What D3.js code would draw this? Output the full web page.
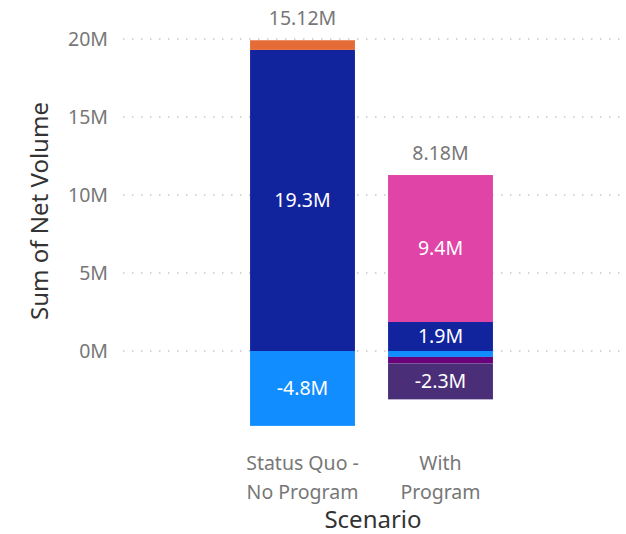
<!DOCTYPE html>
<html>
<head>
<meta charset="utf-8">
<script src="https://cdn.jsdelivr.net/npm/d3@7"></script>
<style>
  body { margin: 0; background: #fff; }
  svg text { font-family: "Segoe UI", "Noto Sans", "Open Sans", sans-serif; }
</style>
</head>
<body>
<script>
// data (values in millions)
var scenarios = ["Status Quo - No Program", "With Program"];
var scenarioLines = [["Status Quo -", "No Program"], ["With", "Program"]];
var seriesNames = ["S1", "S2", "S3", "S4", "S5", "S6"];
var seriesColors = ["#118DFF", "#12239E", "#E66C37", "#6B007B", "#E044A7", "#4B2E78"];
var statusQuoValues = [-4.8, 19.3, 0.62, 0, 0, 0];
var withProgramValues = [-0.38, 1.86, 0, -0.42, 9.42, -2.3];
var totals = ["15.12M", "8.18M"];
var yTicks = [0, 5, 10, 15, 20];

var width = 626, height = 534;

var svg = d3.select("body").append("svg")
    .attr("width", width)
    .attr("height", height);

var x = d3.scaleBand()
    .domain(scenarios)
    .range([233.5, 509.5])
    .paddingInner(0.24)
    .paddingOuter(0.12);

var y = d3.scaleLinear()
    .domain([0, 20])
    .range([351, 39]);

var fmt = d3.formatLocale({ decimal: ".", thousands: ",", grouping: [3], currency: ["", ""], minus: "-" }).format(".1f");

// gridlines
svg.append("g").selectAll("line")
    .data(yTicks)
  .enter().append("line")
    .attr("x1", 123)
    .attr("x2", width)
    .attr("y1", function(d){ return y(d); })
    .attr("y2", function(d){ return y(d); })
    .attr("stroke", "#c8c8c8")
    .attr("stroke-width", 1.5)
    .attr("stroke-dasharray", "1.5,7.5");

// y axis labels
var yAxis = d3.axisLeft(y)
    .tickValues(yTicks)
    .tickSize(0)
    .tickPadding(0)
    .tickFormat(function(d){ return d + "M"; });

var yg = svg.append("g")
    .attr("transform", "translate(108,0)")
    .call(yAxis);
yg.select(".domain").remove();
yg.selectAll("text")
    .attr("fill", "#777")
    .style("font-size", "19.5px");

// build stacked segments: positives up from zero, negatives down
var rows = [statusQuoValues, withProgramValues];
var segments = [];
rows.forEach(function(vals, i){
  var pos = 0, neg = 0;
  vals.forEach(function(v, k){
    if (v === 0) return;
    var y0, y1;
    if (v > 0) { y0 = pos; y1 = pos + v; pos = y1; }
    else { y0 = neg; y1 = neg + v; neg = y1; }
    segments.push({ cat: scenarios[i], series: k, v: v, y0: y0, y1: y1 });
  });
});

svg.append("g").selectAll("rect")
    .data(segments)
  .enter().append("rect")
    .attr("x", function(d){ return x(d.cat); })
    .attr("width", x.bandwidth())
    .attr("y", function(d){ return y(Math.max(d.y0, d.y1)); })
    .attr("height", function(d){ return Math.abs(y(d.y0) - y(d.y1)); })
    .attr("fill", function(d){ return seriesColors[d.series]; });

// segment labels (only for tall enough segments)
svg.append("g").selectAll("text")
    .data(segments.filter(function(d){ return Math.abs(d.v) >= 1; }))
  .enter().append("text")
    .attr("x", function(d){ return x(d.cat) + x.bandwidth() / 2; })
    .attr("y", function(d){ return (y(d.y0) + y(d.y1)) / 2; })
    .attr("dy", "0.35em")
    .attr("text-anchor", "middle")
    .attr("fill", "#fff")
    .style("font-size", "19.5px")
    .text(function(d){ return fmt(d.v) + "M"; });

// total labels above bars
svg.append("g").selectAll("text")
    .data(rows)
  .enter().append("text")
    .attr("x", function(d, i){ return x(scenarios[i]) + x.bandwidth() / 2; })
    .attr("y", function(d){
      var top = d3.sum(d.filter(function(v){ return v > 0; }));
      return y(top) - 15;
    })
    .attr("text-anchor", "middle")
    .attr("fill", "#777")
    .style("font-size", "19.5px")
    .text(function(d, i){ return totals[i]; });

// x category labels
var xl = svg.append("g").selectAll("text")
    .data(scenarios)
  .enter().append("text")
    .attr("x", function(d){ return x(d) + x.bandwidth() / 2; })
    .attr("y", 470)
    .attr("text-anchor", "middle")
    .attr("fill", "#777")
    .style("font-size", "19.5px");
xl.selectAll("tspan")
    .data(function(d, i){ return scenarioLines[i]; })
  .enter().append("tspan")
    .attr("x", function(){ return d3.select(this.parentNode).attr("x"); })
    .attr("dy", function(d, j){ return j === 0 ? 0 : 29; })
    .text(function(d){ return d; });

// axis titles
svg.append("text")
    .attr("x", 373)
    .attr("y", 528)
    .attr("text-anchor", "middle")
    .attr("fill", "#333")
    .style("font-size", "24px")
    .text("Scenario");

svg.append("text")
    .attr("transform", "translate(48,211) rotate(-90)")
    .attr("text-anchor", "middle")
    .attr("fill", "#333")
    .style("font-size", "24px")
    .text("Sum of Net Volume");
</script>
</body>
</html>
